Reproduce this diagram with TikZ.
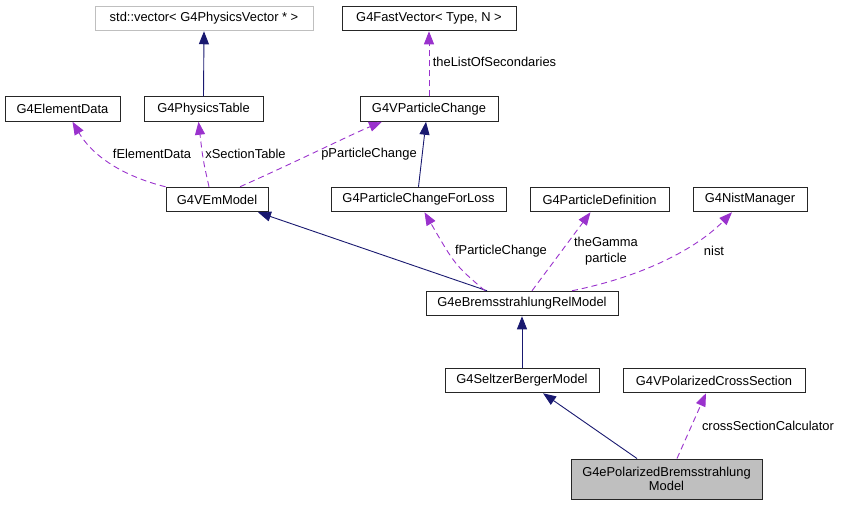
\documentclass[tikz,border=0pt]{standalone}
\usepackage{fontspec}
\setmainfont{Liberation Sans}
\usetikzlibrary{arrows.meta}

\definecolor{edgeblue}{HTML}{191970}
\definecolor{edgepurple}{HTML}{9A32CD}
\definecolor{boxgray}{HTML}{BFBFBF}

\begin{document}
\begin{tikzpicture}[x=1pt, y=-1pt,
	font=\fontsize{12.9}{15.5}\selectfont,
	cls/.style={draw=black!85, line width=1pt, minimum height=24.5pt, inner sep=2pt},
	inherit/.style={edgeblue, line width=0.9pt, -{Triangle[length=13pt,width=10pt]}},
	member/.style={edgepurple, line width=0.9pt, dash pattern=on 6pt off 4pt, -{Triangle[length=13pt,width=10pt]}},
	lbl/.style={inner sep=0pt, align=center}]

\useasboundingbox (0,0) rectangle (843,507);

%% Klassen
\node[cls, draw=boxgray, minimum width=218pt] (stdvec) at (204,18.5) {std::vector< G4PhysicsVector * >};
\node[cls, minimum width=174pt] (fastvec) at (429,18.5) {G4FastVector< Type, N >};
\node[cls, minimum width=115pt] (elemdata) at (62.5,109) {G4ElementData};
\node[cls, minimum width=119pt] (phystable) at (203.5,109) {G4PhysicsTable};
\node[cls, minimum width=138pt] (vpchange) at (429,109) {G4VParticleChange};
\node[cls, minimum width=102pt] (emmodel) at (217,199.5) {G4VEmModel};
\node[cls, minimum width=175pt] (pcfl) at (418.5,199.5) {G4ParticleChangeForLoss};
\node[cls, minimum width=139pt] (pdef) at (599.5,199.5) {G4ParticleDefinition};
\node[cls, minimum width=114pt] (nist) at (750,199.5) {G4NistManager};
\node[cls, minimum width=192pt] (bremrel) at (522,303.5) {G4eBremsstrahlungRelModel};
\node[cls, minimum width=154pt] (seltzer) at (522,380.5) {G4SeltzerBergerModel};
\node[cls, minimum width=182pt] (vpolcs) at (714,380.5) {G4VPolarizedCrossSection};
\node[cls, fill=boxgray, minimum width=191pt, minimum height=40pt, align=center,
	font=\fontsize{12.9}{13.7}\selectfont] (polbrem) at (666.5,479) {G4ePolarizedBremsstrahlung\\Model};
%%%%%%%%%%%%%%%%

%% Vererbung
\draw[inherit] (phystable.north) -- (stdvec.south);
\draw[inherit] (pcfl.north) -- ([xshift=-3pt]vpchange.south);
\draw[inherit] ([xshift=-35pt]bremrel.north) -- ([xshift=41pt]emmodel.south);
\draw[inherit] (seltzer.north) -- (bremrel.south);
\draw[inherit] ([xshift=-29.5pt]polbrem.north) -- ([xshift=21pt]seltzer.south);

%% Member
\draw[member] (vpchange.north) -- (fastvec.south);
\draw[member] (emmodel.north west) .. controls (130,178) and (95,160) .. ([xshift=10pt]elemdata.south);
\draw[member] ([xshift=-8pt]emmodel.north) .. controls (203,160) .. ([xshift=-5pt]phystable.south);
\draw[member] ([xshift=23pt]emmodel.north) .. controls (300,160) and (350,135) .. ([xshift=-47pt]vpchange.south);
\draw[member] ([xshift=-37pt]bremrel.north) .. controls (455,265) .. ([xshift=6pt]pcfl.south);
\draw[member] ([xshift=10pt]bremrel.north) -- ([xshift=-9pt]pdef.south);
\draw[member] ([xshift=50pt]bremrel.north) .. controls (650,275) and (700,245) .. ([xshift=-18pt]nist.south);
\draw[member] ([xshift=10.5pt]polbrem.north) -- ([xshift=-8pt]vpolcs.south);

%% Beschriftung
\node[lbl] (lsecond) at (494.5,62) {theListOfSecondaries};
\node[lbl] (lelem) at (152,154) {fElementData};
\node[lbl] (lxsec) at (245.5,154) {xSectionTable};
\node[lbl] (lpchange) at (369,154) {pParticleChange};
\node[lbl] (lfpchange) at (501,251) {fParticleChange};
\node[lbl] (lgamma) at (606,251) {theGamma\\particle};
\node[lbl] (lnist) at (714,251) {nist};
\node[lbl] (lcross) at (768,426) {crossSectionCalculator};

\end{tikzpicture}
\end{document}
